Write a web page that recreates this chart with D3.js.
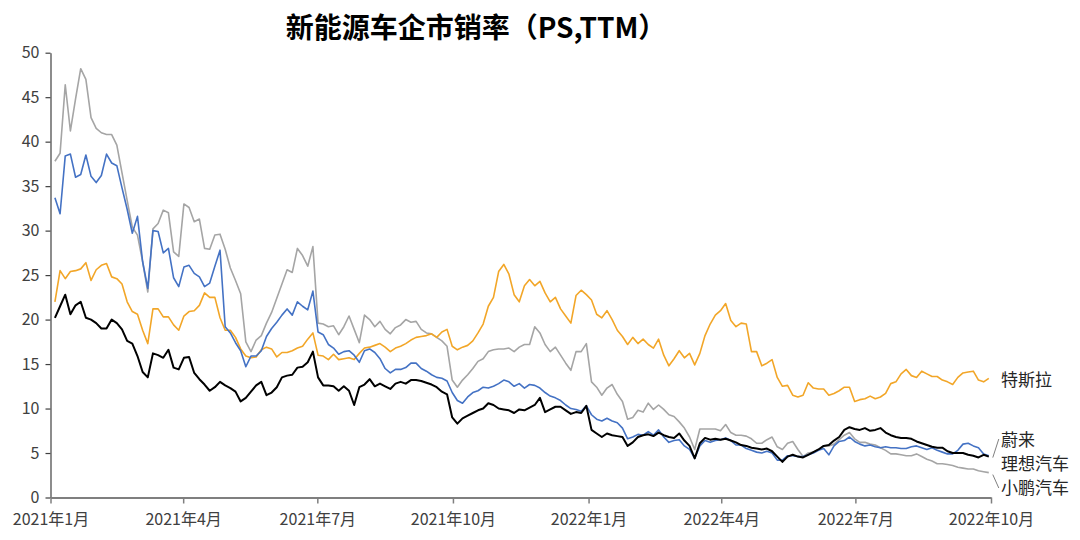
<!DOCTYPE html>
<html>
<head>
<meta charset="utf-8">
<script src="https://cdn.jsdelivr.net/npm/d3@7"></script>
<style>
  html, body { margin: 0; padding: 0; background: #fff; }
  svg { display: block; }
  text { font-family: "Noto Sans CJK SC", "Noto Sans", sans-serif; }
</style>
</head>
<body>
<svg id="chart" width="1080" height="540"></svg>
<script>
// ---------- DATA ----------
const title = "新能源车企市销率（PS,TTM）";
const startDate = "2021-01-04";   // first sample
const stepDays = 3.5;             // sample spacing (days)

const nio = [20.2,21.5,22.8,20.6,21.6,22.0,20.2,20.0,19.6,19.0,19.0,20.0,19.6,18.9,17.6,17.3,15.9,14.1,13.5,16.2,
16.0,15.7,16.6,14.6,14.4,15.7,15.8,14.0,13.3,12.7,12.0,12.4,13.0,12.6,12.3,11.9,10.8,11.2,11.9,12.6,
13.0,11.5,11.8,12.4,13.5,13.7,13.8,14.6,14.7,15.2,16.4,13.5,12.6,12.6,12.5,12.0,12.5,12.0,10.4,12.4,
12.7,13.3,12.5,12.8,12.5,12.2,12.8,13.0,12.8,13.2,13.2,13.1,12.9,12.7,12.4,11.9,11.6,9.0,8.3,8.9,
9.2,9.5,9.8,10.0,10.6,10.4,10.0,9.9,9.8,9.5,9.9,9.8,10.1,10.4,11.2,9.6,9.9,10.2,10.2,9.8,
9.4,9.6,9.5,10.3,7.6,7.2,6.8,7.2,7.0,6.9,6.8,5.8,6.2,6.8,7.0,7.1,6.9,7.3,7.0,6.8,
6.7,7.2,6.4,5.8,4.4,6.1,6.7,6.5,6.6,6.5,6.6,6.4,6.2,5.9,5.8,5.6,5.5,5.4,5.5,5.2,
4.6,4.0,4.6,4.8,4.6,4.5,4.8,5.1,5.4,5.8,5.9,6.4,6.8,7.6,7.9,7.7,7.6,7.8,7.5,7.6,
7.8,7.3,7.0,6.8,6.7,6.7,6.6,6.3,6.1,5.9,5.7,5.6,5.6,5.2,5.0,5.0,5.0,4.8,4.7,4.5,
4.8,4.6];

const li = [33.7,31.9,38.4,38.6,36.0,36.3,38.5,36.1,35.4,36.2,38.6,37.6,37.3,34.8,32.4,29.7,31.6,26.5,23.5,30.0,
29.9,27.5,28.0,24.7,23.7,25.9,26.1,25.2,24.8,23.7,24.1,26.0,27.8,19.2,18.5,17.4,16.5,14.7,15.9,15.9,
16.5,18.1,19.0,19.7,20.5,21.2,20.5,22.0,21.5,21.1,23.2,18.6,18.3,17.2,16.8,16.1,16.4,16.5,16.0,15.2,
16.5,16.7,16.3,15.6,14.5,14.0,14.4,14.4,14.6,15.1,15.1,14.5,14.2,13.8,13.5,13.4,13.1,11.8,10.9,10.6,
11.3,11.8,12.0,12.4,12.3,12.5,12.8,13.2,13.0,12.5,12.8,12.3,12.7,12.6,12.3,11.8,11.4,11.2,10.9,10.4,
10.0,9.9,9.7,10.3,9.3,8.8,8.6,8.9,8.6,8.4,7.8,6.6,6.8,7.1,7.0,7.4,7.0,7.6,6.8,6.2,
6.4,6.5,5.8,5.4,4.4,5.8,6.4,6.2,6.4,6.5,6.7,6.4,5.9,5.9,5.5,5.3,5.1,5.0,5.2,5.0,
4.2,4.2,4.7,4.7,4.6,4.6,4.8,5.0,5.3,5.5,4.8,5.8,6.3,6.4,6.8,6.3,6.0,5.8,5.9,5.7,
5.6,5.7,5.6,5.6,5.5,5.5,5.7,5.8,5.6,5.4,5.6,5.3,5.1,4.9,4.9,5.3,6.0,6.1,5.8,5.6,
4.9,4.7];

const xpeng = [37.8,38.7,46.4,41.2,44.8,48.2,47.0,42.7,41.5,41.0,40.8,40.8,39.6,36.5,33.4,30.4,29.5,26.5,23.1,30.2,
30.8,32.3,32.0,27.6,27.1,33.0,32.6,31.0,31.3,28.0,27.9,29.5,29.6,27.9,25.8,24.4,22.9,17.5,16.4,17.7,
18.2,19.6,20.8,22.4,24.0,25.6,25.3,28.0,27.2,26.0,28.2,19.6,19.5,19.2,19.3,18.3,19.2,20.4,18.9,17.4,
20.5,20.0,19.2,19.8,18.9,18.4,19.1,19.4,20.0,19.7,19.8,18.9,18.5,18.4,18.0,17.6,17.0,13.2,12.4,13.2,
13.8,14.5,15.3,15.6,16.4,16.6,16.7,16.7,16.8,16.4,16.9,17.2,17.2,19.2,18.5,17.2,16.4,16.9,16.0,15.1,
14.3,16.4,16.4,17.3,13.0,12.4,11.5,12.3,12.7,11.6,10.8,8.8,9.0,9.8,9.6,10.6,9.9,10.4,9.9,9.3,
9.1,8.5,7.8,6.8,5.4,7.7,7.7,7.7,7.7,7.5,8.2,7.3,7.0,7.0,6.9,6.6,6.1,6.1,6.5,6.8,
5.7,5.4,6.1,6.3,5.4,4.6,5.0,5.1,5.4,5.8,5.8,6.0,6.5,7.0,7.3,6.6,6.2,6.2,6.0,5.9,
5.6,5.3,4.9,4.9,4.8,4.7,4.7,4.9,4.6,4.3,4.1,3.8,3.8,3.7,3.6,3.4,3.3,3.2,3.2,3.0,
2.9,2.8];

const tesla = [22.0,25.5,24.6,25.4,25.5,25.7,26.4,24.4,25.6,26.1,26.3,24.8,24.6,24.0,22.0,20.9,20.6,18.8,17.3,21.2,
21.2,20.3,20.3,19.4,18.8,20.4,20.9,21.0,21.6,23.0,22.5,22.5,20.2,18.8,18.8,18.0,16.7,15.9,15.7,15.8,
16.6,16.9,16.7,15.8,16.3,16.3,16.5,16.8,17.0,17.8,18.5,16.0,15.9,15.5,16.1,15.5,15.6,15.7,15.5,16.2,
16.8,16.9,17.1,17.3,16.9,16.4,16.8,17.0,17.3,17.7,18.0,18.1,18.2,18.4,18.0,18.6,18.9,17.0,16.6,16.9,
17.1,17.6,18.5,19.5,21.5,22.5,25.4,26.2,25.1,22.8,22.0,23.8,24.5,23.8,24.3,23.0,22.0,22.5,21.2,20.4,
19.6,22.7,23.3,22.8,22.2,20.6,20.2,21.0,20.0,18.8,18.1,17.2,18.0,17.3,17.8,17.2,16.8,17.8,16.0,14.8,
15.6,16.5,15.7,16.2,14.9,16.2,18.2,19.5,20.5,21.0,21.8,19.9,19.2,19.6,19.5,16.4,16.4,14.8,15.1,15.5,
13.5,12.5,12.6,11.5,11.3,11.5,12.9,12.3,12.2,12.2,11.5,11.7,12.0,12.4,12.4,10.8,11.0,11.1,11.4,11.1,
11.3,11.7,12.8,13.0,13.9,14.4,13.7,13.5,14.2,13.9,13.6,13.6,13.2,13.0,12.7,13.5,14.0,14.1,14.2,13.2,
13.0,13.4];

const seriesNames = ["特斯拉", "蔚来", "理想汽车", "小鹏汽车"];
const seriesColors = ["#F2A628", "#000000", "#4472C4", "#A5A5A5"];
const yTicks = [0, 5, 10, 15, 20, 25, 30, 35, 40, 45, 50];
const xTickDates = ["2021-01-01","2021-04-01","2021-07-01","2021-10-01","2022-01-01","2022-04-01","2022-07-01","2022-10-01"];
const xTickLabels = ["2021年1月","2021年4月","2021年7月","2021年10月","2022年1月","2022年4月","2022年7月","2022年10月"];

// ---------- BUILD ----------
const parse = d3.timeParse("%Y-%m-%d");
const t0 = parse(startDate);
const dates = nio.map((_, i) => new Date(t0.getTime() + i * stepDays * 864e5));

const svg = d3.select("#chart");
const x = d3.scaleTime()
  .domain([parse("2021-01-01"), parse("2022-10-01")])
  .range([50.5, 991]);
const y = d3.scaleLinear().domain([0, 50]).range([497.5, 52.7]);

// title
svg.append("text")
  .attr("x", 476).attr("y", 38)
  .attr("text-anchor", "middle")
  .attr("font-size", 28).attr("font-weight", "bold")
  .attr("fill", "#000")
  .text(title);

// y axis
const yAxis = svg.append("g").attr("transform", "translate(50.5,0)")
  .call(d3.axisLeft(y).tickValues(yTicks).tickSize(5).tickSizeOuter(0).tickPadding(6));
yAxis.select(".domain").attr("stroke", "#404040").attr("stroke-width", 1.2);
yAxis.selectAll(".tick line").attr("stroke", "#404040").attr("stroke-width", 1.2);
yAxis.selectAll(".tick text").attr("font-size", 16).attr("fill", "#404040")
  .style("font-family", "'Noto Sans CJK SC', sans-serif");

// x axis
const xAxis = svg.append("g").attr("transform", "translate(0,497.5)")
  .call(d3.axisBottom(x).tickValues(xTickDates.map(parse)).tickSize(6).tickSizeOuter(0).tickPadding(10)
    .tickFormat((d, i) => xTickLabels[i]));
xAxis.select(".domain").attr("stroke", "#7F7F7F").attr("stroke-width", 2);
xAxis.selectAll(".tick line").attr("stroke", "#7F7F7F").attr("stroke-width", 1.5);
xAxis.selectAll(".tick text").attr("font-size", 16).attr("fill", "#404040")
  .style("font-family", "'Noto Sans CJK SC', sans-serif");

// lines (draw order: xpeng, tesla, li, nio on top)
const allSeries = { "特斯拉": tesla, "蔚来": nio, "理想汽车": li, "小鹏汽车": xpeng };
const drawOrder = ["小鹏汽车", "特斯拉", "理想汽车", "蔚来"];
const line = d3.line().x((d, i) => x(dates[i])).y(d => y(d));
drawOrder.forEach(name => {
  const idx = seriesNames.indexOf(name);
  svg.append("path")
    .datum(allSeries[name])
    .attr("fill", "none")
    .attr("stroke", seriesColors[idx])
    .attr("stroke-width", name === "蔚来" ? 2 : 1.6)
    .attr("stroke-linejoin", "round")
    .attr("d", line);
});

// end labels
const lastDate = dates[dates.length - 1];
const labelPos = [
  { name: "特斯拉", y: 378 },
  { name: "蔚来", y: 438 },
  { name: "理想汽车", y: 462 },
  { name: "小鹏汽车", y: 486 }
];
labelPos.forEach(p => {
  svg.append("text")
    .attr("x", 1001).attr("y", p.y)
    .attr("dominant-baseline", "central")
    .attr("font-size", 17).attr("fill", "#262626")
    .text(p.name);
});
// leader lines
const xEnd = x(lastDate);
svg.append("line").attr("x1", xEnd + 4).attr("y1", y(nio[nio.length - 1]) + 1)
  .attr("x2", xEnd + 10).attr("y2", 439).attr("stroke", "#7F7F7F").attr("stroke-width", 1);
svg.append("line").attr("x1", xEnd + 4).attr("y1", y(xpeng[xpeng.length - 1]) + 2)
  .attr("x2", xEnd + 10).attr("y2", 488).attr("stroke", "#7F7F7F").attr("stroke-width", 1);
</script>
</body>
</html>
